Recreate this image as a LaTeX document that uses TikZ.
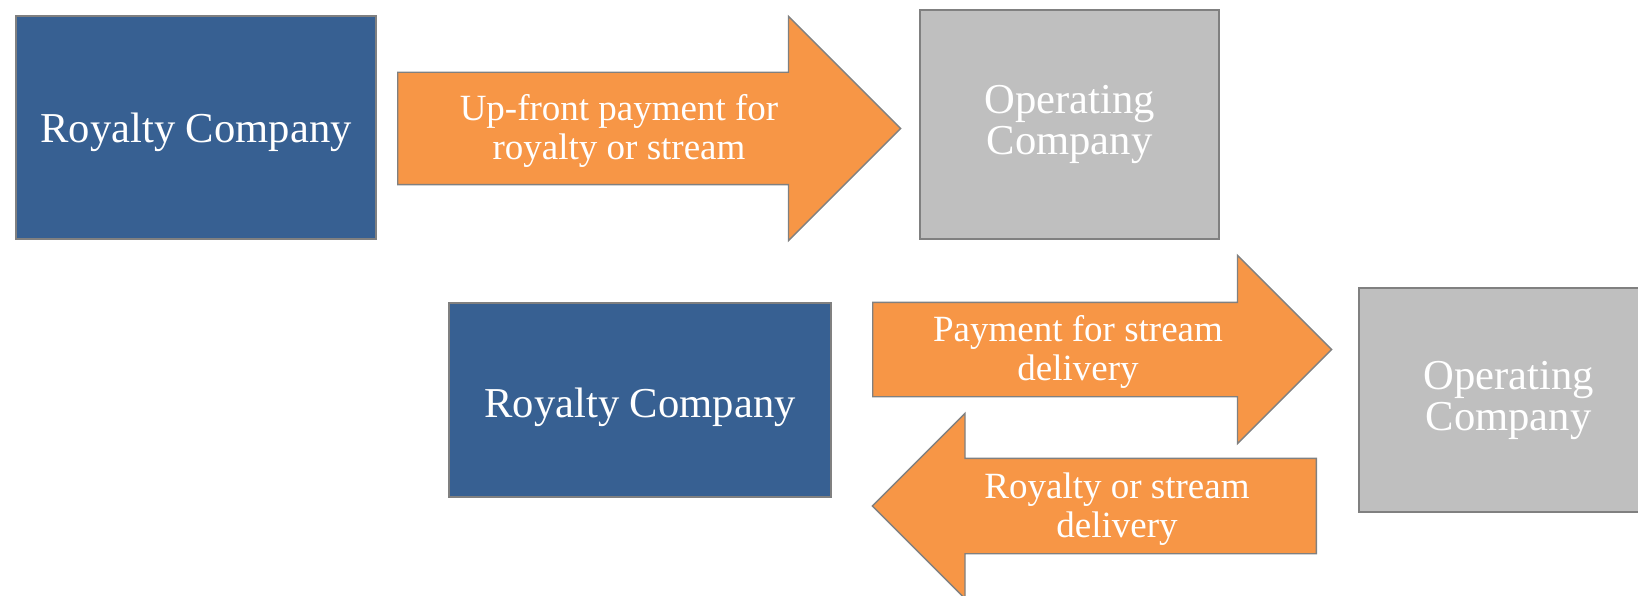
\documentclass[tikz,border=0pt]{standalone}
\usepackage{fontspec}
\setmainfont{Liberation Serif}
\usetikzlibrary{shapes.arrows, positioning}
\definecolor{royblue}{RGB}{55,96,146}
\definecolor{floworange}{RGB}{247,150,70}
\definecolor{opgray}{RGB}{191,191,191}
\definecolor{rimgray}{RGB}{128,128,128}
\tikzset{
    company/.style={draw=rimgray, line width=1.4pt, inner sep=0pt, text=white, align=center,
        font=\fontsize{42.6}{41}\selectfont},
    royalty/.style={company, fill=royblue},
    operating/.style={company, fill=opgray},
    % #1 shaft width, #2 head width, #3 length
    flow/.style n args={3}{single arrow, draw=rimgray, line width=1.4pt, fill=floworange,
        inner xsep=0pt, inner ysep=#1/2, single arrow head extend=#2/2-#1/2,
        minimum height=#3, anchor=tail},
    flowtext/.style={text=white, align=center, inner sep=0pt,
        font=\fontsize{37}{39.5}\selectfont},
}

\begin{document}
\begin{tikzpicture}[x=1pt, y=-1pt]
\useasboundingbox (0,0) rectangle (1638,596);

% companies
\node[royalty, text height=30pt, text depth=0.6pt, minimum width=360, minimum height=223] (rc1) at (196,127.5) {Royalty Company};
\node[operating, minimum width=299, minimum height=229] (oc1) at (1069.5,124.5) {Operating\\Company};
\node[royalty, text height=36pt, text depth=0.8pt, minimum width=382, minimum height=194] (rc2) at (640,400) {Royalty Company};
\node[operating, minimum width=299, minimum height=224] (oc2) at (1508.5,400) {Operating\\Company};

% up-front deal
\node[flow={111pt}{223pt}{503pt}] (upfront) at (397,128.5) {};
\node[flowtext] (upfrontlbl) at (619,131) {Up-front payment for\\royalty or stream};

% ongoing deliveries
\node[flow={93pt}{187pt}{459pt}] (pay) at (872,349.5) {};
\node[flowtext] (paylbl) at (1078,352) {Payment for stream\\delivery};
\node[flow={94pt}{184pt}{444pt}, shape border rotate=180] (deliv) at (1317,506) {};
\node[flowtext] (delivlbl) at (1117,509) {Royalty or stream\\delivery};

\end{tikzpicture}
\end{document}
